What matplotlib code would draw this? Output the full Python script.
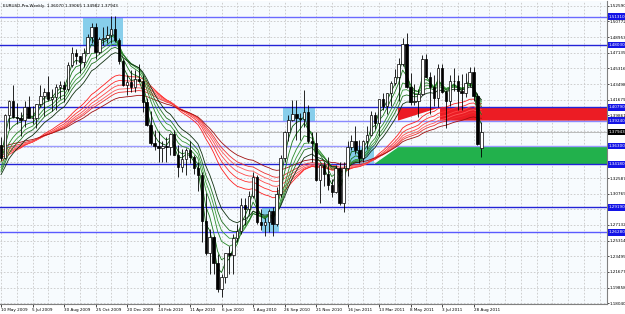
import numpy as np
import matplotlib
matplotlib.use('Agg')
import matplotlib.pyplot as plt
from matplotlib.patches import Rectangle, Polygon

# ---------------- data ----------------
opens = [1.3645,1.3490,1.3990,1.4150,1.3970,1.3960,1.3935,1.4080,1.3960,1.3950,
         1.4115,1.4210,1.4255,1.4180,1.4200,1.4320,1.4340,1.4290,1.4570,1.4710,
         1.4680,1.4600,1.4715,1.4900,1.5010,1.4720,1.4870,1.4880,1.4920,1.4990,
         1.4860,1.4620,1.4340,1.4370,1.4320,1.4410,1.4390,1.4140,1.3870,1.3670,
         1.3630,1.3610,1.3630,1.3620,1.3770,1.3530,1.3390,1.3480,1.3580,1.3500,
         1.3380,1.3290,1.2760,1.2390,1.2570,1.2270,1.1970,1.2110,1.2390,1.2370,
         1.2560,1.2640,1.2940,1.2900,1.3050,1.3270,1.2750,1.2710,1.2750,1.2880,
         1.2720,1.3070,1.3490,1.3790,1.3930,1.4000,1.3950,1.3940,1.4030,1.3690,
         1.3670,1.3240,1.3410,1.3300,1.3180,1.3100,1.3380,1.2970,1.3380,1.3620,
         1.3690,1.3580,1.3490,1.3690,1.3760,1.3990,1.3900,1.4180,1.4090,1.4240,
         1.4360,1.4430,1.4580,1.4810,1.4310,1.4140,1.4150,1.4230,1.4640,1.4430,
         1.4310,1.4190,1.4530,1.4260,1.4150,1.4380,1.4390,1.4270,1.4240,1.4360,
         1.4490,1.4210,1.36070]
highs = [1.3740,1.4005,1.4160,1.4340,1.4130,1.4030,1.4150,1.4210,1.4090,1.4120,
         1.4340,1.4300,1.4445,1.4290,1.4350,1.4390,1.4380,1.4610,1.4780,1.4760,
         1.4680,1.4770,1.4930,1.5060,1.5060,1.4900,1.5010,1.5020,1.5145,1.5144,
         1.4880,1.4640,1.4450,1.4510,1.4510,1.4580,1.4460,1.4190,1.4040,1.3820,
         1.3800,1.3690,1.3740,1.3780,1.3820,1.3640,1.3590,1.3610,1.3690,1.3520,
         1.3440,1.3330,1.3090,1.2670,1.2580,1.2380,1.2140,1.2390,1.2470,1.2610,
         1.2720,1.3030,1.3030,1.3110,1.3330,1.3290,1.2900,1.2790,1.2900,1.2920,
         1.3160,1.3530,1.3810,1.3990,1.4160,1.4160,1.4010,1.4280,1.4110,1.3790,
         1.3790,1.3420,1.3450,1.3500,1.3250,1.3410,1.3440,1.3450,1.3690,1.3760,
         1.3860,1.3700,1.3700,1.3860,1.4040,1.4030,1.4180,1.4250,1.4250,1.4380,
         1.4520,1.4650,1.4880,1.4940,1.4480,1.4350,1.4290,1.4690,1.4700,1.4490,
         1.4450,1.4580,1.4580,1.4280,1.4450,1.4530,1.4450,1.4470,1.4480,1.4550,
         1.4550,1.4240,1.39065]
lows = [1.3470,1.3480,1.3830,1.3960,1.3880,1.3750,1.3850,1.3990,1.3880,1.3840,
        1.4080,1.3980,1.4150,1.4040,1.4050,1.4180,1.4140,1.4270,1.4550,1.4580,
        1.4480,1.4550,1.4710,1.4830,1.4640,1.4700,1.4800,1.4830,1.4830,1.4840,
        1.4580,1.4330,1.4220,1.4260,1.4260,1.4380,1.4030,1.3860,1.3640,1.3580,
        1.3440,1.3450,1.3440,1.3530,1.3530,1.3270,1.3330,1.3290,1.3430,1.3300,
        1.3110,1.2520,1.2360,1.2140,1.2140,1.1940,1.1875,1.2040,1.2150,1.2150,
        1.2510,1.2610,1.2710,1.2840,1.3030,1.2730,1.2660,1.2590,1.2630,1.2590,
        1.2700,1.3040,1.3440,1.3690,1.3920,1.3700,1.3700,1.3850,1.3660,1.3450,
        1.3220,1.2970,1.3170,1.3120,1.3040,1.3080,1.2950,1.2860,1.3280,1.3580,
        1.3540,1.3430,1.3440,1.3600,1.3750,1.3830,1.3750,1.4050,1.4000,1.4100,
        1.4340,1.4150,1.4560,1.4300,1.4110,1.4110,1.3970,1.4220,1.4430,1.4000,
        1.4100,1.4080,1.4240,1.3840,1.4090,1.4270,1.4050,1.4050,1.4200,1.4320,
        1.4150,1.3640,1.34982]
closes = [1.3490,1.3990,1.4150,1.3970,1.3960,1.3935,1.4080,1.3960,1.3950,1.4115,
          1.4210,1.4255,1.4180,1.4200,1.4320,1.4340,1.4290,1.4570,1.4710,1.4680,
          1.4600,1.4715,1.4900,1.5010,1.4720,1.4870,1.4880,1.4920,1.4990,1.4860,
          1.4620,1.4340,1.4370,1.4320,1.4410,1.4390,1.4140,1.3870,1.3670,1.3630,
          1.3610,1.3630,1.3620,1.3770,1.3530,1.3390,1.3480,1.3580,1.3500,1.3380,
          1.3290,1.2760,1.2390,1.2570,1.2270,1.1970,1.2110,1.2390,1.2370,1.2560,
          1.2640,1.2940,1.2900,1.3050,1.3270,1.2750,1.2710,1.2750,1.2880,1.2720,
          1.3070,1.3490,1.3790,1.3930,1.4000,1.3950,1.3940,1.4030,1.3690,1.3670,
          1.3240,1.3410,1.3300,1.3180,1.3100,1.3380,1.2970,1.3380,1.3620,1.3690,
          1.3580,1.3490,1.3690,1.3760,1.3990,1.3900,1.4180,1.4090,1.4240,1.4360,
          1.4430,1.4580,1.4810,1.4310,1.4140,1.4150,1.4230,1.4640,1.4430,1.4310,
          1.4190,1.4530,1.4260,1.4150,1.4380,1.4390,1.4270,1.4240,1.4360,1.4490,
          1.4210,1.3655,1.37943]

date_labels = ['10 May 2009', '5 Jul 2009', '30 Aug 2009', '25 Oct 2009', '20 Dec 2009',
               '14 Feb 2010', '11 Apr 2010', '6 Jun 2010', '1 Aug 2010', '26 Sep 2010',
               '21 Nov 2010', '16 Jan 2011', '13 Mar 2011', '8 May 2011', '3 Jul 2011',
               '28 Aug 2011']
price_ticks = [1.18040, 1.19858, 1.21677, 1.23495, 1.25314, 1.27132, 1.28951, 1.30769,
               1.32587, 1.34406, 1.36224, 1.38043, 1.39861, 1.41679, 1.43498, 1.45316,
               1.47135, 1.48953, 1.50772, 1.52590]

# GMMA periods and their starting values read at the left edge
short_periods = [3, 5, 8, 10, 12, 15]
short_seeds = [1.350, 1.342, 1.335, 1.332, 1.330, 1.327]
long_periods = [30, 35, 40, 45, 50, 60]
long_seeds = [1.345, 1.349, 1.352, 1.355, 1.358, 1.362]

# horizontal levels
hlines = [1.5131, 1.4803, 1.4079, 1.3924, 1.3630, 1.3418, 1.2919, 1.2628]
current_price = 1.37943
title = 'EURUSD-Pro,Weekly  1.36070 1.39065 1.34982 1.37943'

# ---------------- figure ----------------
W, H = 625, 314
fig = plt.figure(figsize=(W / 100, H / 100), dpi=100)
fig.patch.set_facecolor('white')
px_per_bar = 3.9375
ax_left, ax_right, ax_top, ax_bot = 0, 607, 1, 304
ax = fig.add_axes([ax_left / W, (H - ax_bot) / H, (ax_right - ax_left) / W, (ax_bot - ax_top) / H])
ax.set_facecolor('#f7fbfe')

n = len(closes)
idx = np.arange(n)
ax.set_xlim(-1 / px_per_bar, (ax_right - 1) / px_per_bar)
ppu = 861.4
y_top_price = 1.52590 + (5.7 - ax_top) / ppu
y_bot_price = 1.52590 - (ax_bot - 5.7) / ppu
ax.set_ylim(y_bot_price, y_top_price)

FS = 3.0

# grid
for i in range(0, int((ax_right) / px_per_bar) + 4, 4):
    ax.axvline(i, color='#c8c8c8', lw=0.6, ls=(0, (2, 2)), zorder=0)
for p in price_ticks:
    ax.axhline(p, color='#c8c8c8', lw=0.6, ls=(0, (2, 2)), zorder=0)

# zones
skyblue = '#87CEEB'
rects = [
    (20.8, 31.0, 1.4803, 1.5131),
    (71.6, 79.7, 1.3924, 1.4079),
    (87.9, 94.7, 1.3418, 1.3630),
    (66.3, 70.6, 1.2628, 1.2919),
]
for x0, x1, p0, p1 in rects:
    ax.add_patch(Rectangle((x0, p0), x1 - x0, p1 - p0, facecolor=skyblue, edgecolor='none', zorder=1))

xend = 200
red_zone = [(100.8, 1.4079), (xend, 1.4079), (xend, 1.3924), (111.5, 1.3924), (100.8, 1.3924)]
red_poly = [(100.8, 1.4079), (xend, 1.4079), (xend, 1.3924), (111.5, 1.3924), (111.5, 1.4079 - 0.0001)]
ax.add_patch(Polygon([(100.8, 1.4079), (xend, 1.4079), (xend, 1.3924), (111.5, 1.3924),
                      (111.5, 1.4079), (100.8, 1.3924)], closed=True,
                     facecolor='#ec1c24', edgecolor='none', zorder=1))
ax.add_patch(Polygon([(94.7, 1.3418), (101.3, 1.3630), (xend, 1.3630), (xend, 1.3418)], closed=True,
                     facecolor='#22b14c', edgecolor='none', zorder=1))

# horizontal lines
hl_colors = ['#6a6aff', '#2323d6', '#2323d6', '#8a8aff', '#9a9aff', '#2323d6', '#2323d6', '#5a5aff']
for p, c in zip(hlines, hl_colors):
    ax.axhline(p, color=c, lw=1.0, zorder=2)
ax.axhline(current_price, color='#b0b0b0', lw=0.6, zorder=2)

# EMA ribbons
def ema(values, period, seed):
    a = 2.0 / (period + 1)
    out = np.empty(len(values))
    prev = seed
    for i, v in enumerate(values):
        prev = a * v + (1 - a) * prev
        out[i] = prev
    return out

cl = np.array(closes)
long_colors = ['#ff2020', '#ff3030', '#ff4848', '#ff5a5a', '#ee3030', '#a01010']
for per, s, c in zip(long_periods, long_seeds, long_colors):
    ax.plot(idx, ema(cl, per, s), color=c, lw=0.6, zorder=3)
short_colors = ['#0a5a0a', '#1a7a1a', '#2a8a2a', '#3a9a3a', '#207020', '#103010']
for per, s, c in zip(short_periods, short_seeds, short_colors):
    ax.plot(idx, ema(cl, per, s), color=c, lw=0.6, zorder=3)

# candles
o = np.array(opens); h = np.array(highs); l = np.array(lows); c_ = cl
up = c_ >= o
ax.vlines(idx, l, h, color='black', lw=0.6, zorder=4)
body_lo = np.minimum(o, c_); body_hi = np.maximum(o, c_)
ax.bar(idx[up], (body_hi - body_lo)[up], bottom=body_lo[up], width=0.62,
       facecolor='white', edgecolor='black', lw=0.5, zorder=5)
ax.bar(idx[~up], (body_hi - body_lo)[~up], bottom=body_lo[~up], width=0.62,
       facecolor='black', edgecolor='black', lw=0.5, zorder=5)

# axes styling
for s in ['top', 'left']:
    ax.spines[s].set_visible(False)
ax.spines['right'].set_color('#808080')
ax.spines['bottom'].set_color('#808080')
ax.spines['right'].set_linewidth(0.8)
ax.spines['bottom'].set_linewidth(0.8)
ax.yaxis.tick_right()
ax.set_yticks(price_ticks)
ax.set_yticklabels(['%.5f' % p for p in price_ticks], fontsize=FS, color='black')
ax.tick_params(axis='y', length=1.5, width=0.5, pad=0.5, colors='black')
ax.set_xticks(np.arange(0, len(date_labels) * 8, 8))
ax.set_xticklabels(date_labels, fontsize=FS, ha='left')
ax.tick_params(axis='x', length=2, width=0.5, pad=1.2)

# level labels on the right axis
tr = ax.get_yaxis_transform()
for p in hlines:
    ax.text(1.003, p, '%.5f' % p, transform=tr, fontsize=FS, color='white', va='center', ha='left',
            bbox=dict(boxstyle='square,pad=0.3', facecolor='#1414e6', edgecolor='none'), zorder=10, clip_on=False)
ax.text(1.003, current_price, '%.5f' % current_price, transform=tr, fontsize=FS, color='white', va='center', ha='left',
        bbox=dict(boxstyle='square,pad=0.3', facecolor='black', edgecolor='none'), zorder=10, clip_on=False)

ax.text(0.005, 0.99, title, transform=ax.transAxes, fontsize=FS, va='top', ha='left', color='black', zorder=10)

fig.savefig('out.png', dpi=100, facecolor='white')
